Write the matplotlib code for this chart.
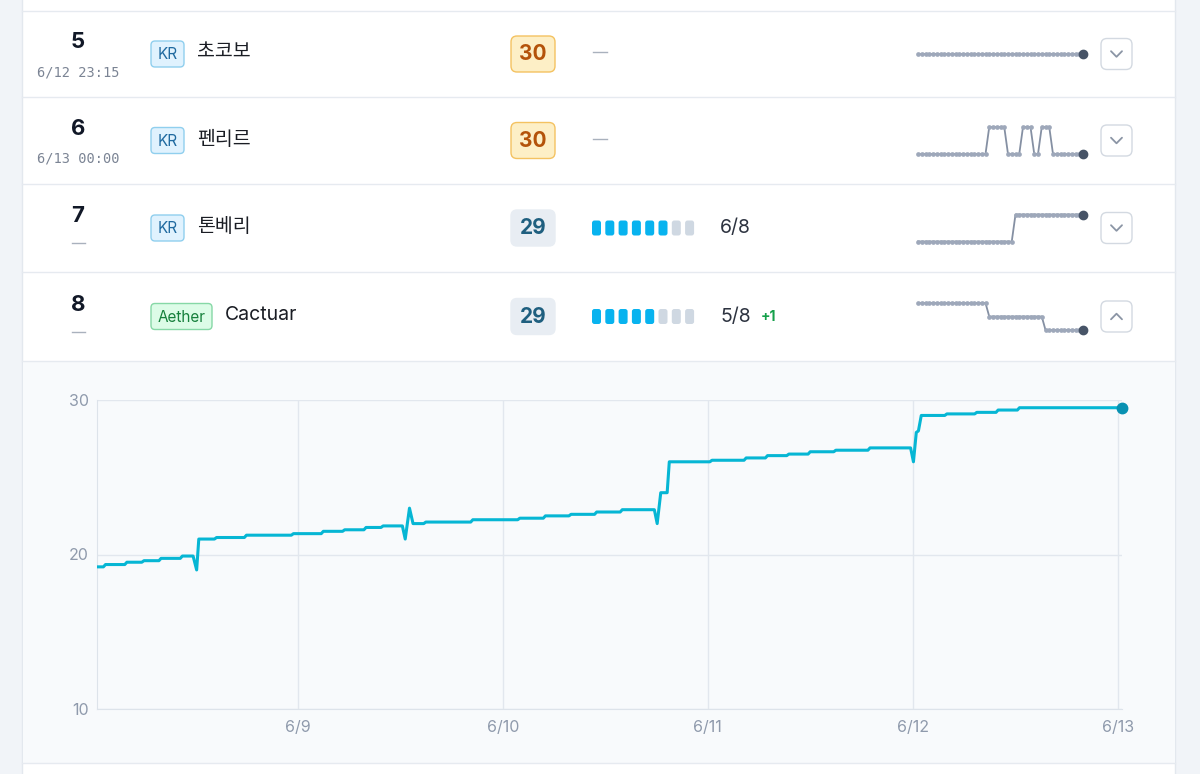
import matplotlib
matplotlib.use("Agg")
import matplotlib.pyplot as plt
from matplotlib.patches import FancyBboxPatch, Rectangle
import pandas as pd

plt.rcParams['font.family'] = ['Inter', 'Noto Sans CJK KR', 'DejaVu Sans']

W, H = 1200, 774

# --- table rows ---
ranks = [5, 6, 7, 8]
rank_notes = ["6/12 23:15", "6/13 00:00", None, None]
worlds = ["KR", "KR", "KR", "Aether"]
names = ["초코보", "펜리르", "톤베리", "Cactuar"]
scores = [30, 30, 29, 29]
progress = [None, None, 6, 5]
progress_total = 8
progress_delta = [None, None, None, "+1"]
expanded = [False, False, False, True]

# rank history sparklines
spark5 = [5, 5, 5, 5, 5, 5, 5, 5, 5, 5, 5, 5, 5, 5, 5,
          5, 5, 5, 5, 5, 5, 5, 5, 5, 5, 5, 5, 5, 5, 5,
          5, 5, 5, 5, 5, 5, 5, 5, 5, 5, 5, 5, 5, 5, 5]
spark6 = [6, 6, 6, 6, 6, 6, 6, 6, 6, 6, 6, 6, 6, 6, 6,
          6, 6, 6, 6, 5, 5, 5, 5, 5, 6, 6, 6, 6, 5, 5,
          5, 6, 6, 5, 5, 5, 6, 6, 6, 6, 6, 6, 6, 6, 6]
spark7 = [8, 8, 8, 8, 8, 8, 8, 8, 8, 8, 8, 8, 8, 8, 8,
          8, 8, 8, 8, 8, 8, 8, 8, 8, 8, 8, 7, 7, 7, 7,
          7, 7, 7, 7, 7, 7, 7, 7, 7, 7, 7, 7, 7, 7, 7]
spark8 = [6, 6, 6, 6, 6, 6, 6, 6, 6, 6, 6, 6, 6, 6, 6,
          6, 6, 6, 6, 7, 7, 7, 7, 7, 7, 7, 7, 7, 7, 7,
          7, 7, 7, 7, 8, 8, 8, 8, 8, 8, 8, 8, 8, 8, 8]
sparks = [spark5, spark6, spark7, spark8]

# --- score history of the expanded row (Cactuar) ---
times = ["06-08 00:30", "06-08 01:15", "06-08 01:30", "06-08 03:45", "06-08 04:00",
         "06-08 05:45", "06-08 06:00", "06-08 07:45", "06-08 08:00", "06-08 10:15",
         "06-08 10:30", "06-08 11:45", "06-08 12:10", "06-08 12:25", "06-08 14:15",
         "06-08 14:30", "06-08 17:45", "06-08 18:00", "06-08 23:15", "06-08 23:30",
         "06-09 02:45", "06-09 03:00", "06-09 05:15", "06-09 05:30", "06-09 07:45",
         "06-09 08:00", "06-09 09:45", "06-09 10:00", "06-09 12:15", "06-09 12:35",
         "06-09 13:05", "06-09 13:30", "06-09 14:45", "06-09 15:00", "06-09 20:15",
         "06-09 20:30", "06-10 01:45", "06-10 02:00", "06-10 04:45", "06-10 05:00",
         "06-10 07:45", "06-10 08:00", "06-10 10:45", "06-10 11:00", "06-10 13:45",
         "06-10 14:00", "06-10 17:45", "06-10 18:05", "06-10 18:30", "06-10 19:15",
         "06-10 19:30", "06-11 00:15", "06-11 00:30", "06-11 04:15", "06-11 04:30",
         "06-11 06:45", "06-11 07:00", "06-11 09:15", "06-11 09:30", "06-11 11:45",
         "06-11 12:00", "06-11 14:45", "06-11 15:00", "06-11 18:45", "06-11 19:00",
         "06-11 23:45", "06-12 00:05", "06-12 00:25", "06-12 00:40", "06-12 01:00",
         "06-12 03:45", "06-12 04:00", "06-12 07:15", "06-12 07:30", "06-12 09:45",
         "06-12 10:00", "06-12 12:15", "06-12 12:30", "06-13 00:30"]
values = [19.2, 19.2, 19.35, 19.35, 19.5,
          19.5, 19.6, 19.6, 19.75, 19.75,
          19.9, 19.9, 19.0, 21.0, 21.0,
          21.1, 21.1, 21.25, 21.25, 21.35,
          21.35, 21.5, 21.5, 21.6, 21.6,
          21.75, 21.75, 21.85, 21.85, 21.0,
          23.0, 22.0, 22.0, 22.1, 22.1,
          22.25, 22.25, 22.35, 22.35, 22.5,
          22.5, 22.6, 22.6, 22.75, 22.75,
          22.9, 22.9, 22.0, 24.0, 24.0,
          26.0, 26.0, 26.1, 26.1, 26.25,
          26.25, 26.4, 26.4, 26.5, 26.5,
          26.65, 26.65, 26.75, 26.75, 26.9,
          26.9, 26.0, 27.9, 28.0, 29.0,
          29.0, 29.1, 29.1, 29.2, 29.2,
          29.35, 29.35, 29.5, 29.5]
x_ticks = ["06-09", "06-10", "06-11", "06-12", "06-13"]
y_ticks = [10, 20, 30]

t = pd.to_datetime(["2025-" + s for s in times])
tick_dates = pd.to_datetime(["2025-" + s for s in x_ticks])

fig = plt.figure(figsize=(12, 7.74), dpi=100)
fig.patch.set_facecolor("#f1f4f8")
bg = fig.add_axes([0, 0, 1, 1])
bg.set_xlim(0, W)
bg.set_ylim(H, 0)
bg.axis("off")


def px_axes(x0, y0, x1, y1):
    return fig.add_axes([x0 / W, 1 - y1 / H, (x1 - x0) / W, (y1 - y0) / H])


def rbox(x0, y0, x1, y1, r, fc, ec="none", lw=1.0):
    bg.add_patch(FancyBboxPatch((x0, y0), x1 - x0, y1 - y0,
                                boxstyle=f"round,pad=0,rounding_size={r}",
                                fc=fc, ec=ec, lw=lw))


# card and expanded panel
bg.add_patch(Rectangle((22, -2), 1153, 780, fc="white", ec="#e3e8ee", lw=1))
bg.add_patch(Rectangle((22.5, 361), 1152, 402, fc="#f8fafc", ec="none"))
for y in [11, 97, 184, 272, 361, 763]:
    bg.plot([22, 1175], [y, y], color="#e6eaf0", lw=1)

centers = [54, 140.5, 228, 316.5]
for i, c in enumerate(centers):
    bg.text(78, c - 11.5, str(ranks[i]), ha="center", va="center",
            fontsize=16, fontweight="bold", color="#111827")
    if rank_notes[i]:
        bg.text(78, c + 18.5, rank_notes[i], ha="center", va="center",
                fontsize=9.8, color="#7b8494", family="DejaVu Sans Mono")
    else:
        bg.plot([72, 85], [c + 15, c + 15], color="#a9b1bd", lw=1)

    # world badge + name
    bw = 19 + 7 * len(worlds[i])
    if worlds[i] == "Aether":
        fc, ec, tc = "#dcfce7", "#86d8a6", "#16803c"
    else:
        fc, ec, tc = "#e0f2fe", "#90cfee", "#1f6aa0"
    rbox(151, c - 13, 151 + bw, c + 13, 4, fc, ec)
    bg.text(151 + bw / 2, c + 0.5, worlds[i], ha="center", va="center",
            fontsize=11, color=tc)
    bg.text(151 + bw + 13, c - 1, names[i], ha="left", va="center",
            fontsize=14, color="#1a1d24")

    # score badge
    if scores[i] >= 30:
        fc, ec, tc = "#fdefc6", "#f4c261", "#b4530a"
    else:
        fc, ec, tc = "#e8edf3", "#e8edf3", "#1f5f7f"
    rbox(511, c - 18, 555, c + 18, 6, fc, ec)
    bg.text(533, c + 0.5, str(scores[i]), ha="center", va="center",
            fontsize=15, fontweight="bold", color=tc)

    # progress
    if progress[i] is None:
        bg.plot([593, 607], [c - 2, c - 2], color="#a9b1bd", lw=1)
    else:
        for k in range(progress_total):
            x0 = 592 + k * 13.3
            col = "#08b3ef" if k < progress[i] else "#cfd8e2"
            rbox(x0, c - 7.5, x0 + 9, c + 7.5, 2.5, col)
        bg.text(720, c, f"{progress[i]}/{progress_total}", ha="left",
                va="center", fontsize=14, color="#2d3340")
        if progress_delta[i]:
            bg.text(761, c + 0.5, progress_delta[i], ha="left", va="center",
                    fontsize=10, fontweight="bold", color="#15a04a")

    # sparkline
    sp = sparks[i]
    sa = px_axes(918, c - 13.5, 1083, c + 13.5)
    sa.axis("off")
    xs = list(range(len(sp)))
    sa.plot(xs, sp, color="#8590a3", lw=1.3, marker="o", ms=3.4,
            mfc="#9ea8ba", mec="none", clip_on=False)
    sa.plot(xs[-1], sp[-1], "o", ms=6, color="#475467", clip_on=False)
    lo, hi = min(sp), max(sp)
    if lo == hi:
        lo, hi = lo - 1, hi + 1
    sa.set_xlim(0, len(sp) - 1)
    sa.set_ylim(hi, lo)

    # expand button
    rbox(1101, c - 15.5, 1132, c + 15.5, 6, "white", "#d3d9e1")
    d = -2.8 if expanded[i] else 2.8
    bg.plot([1111, 1116.5, 1122], [c - d, c + d, c - d],
            color="#8b95a5", lw=1.3, solid_capstyle="round",
            solid_joinstyle="round")

# main chart
ax = px_axes(97, 400, 1122, 709)
ax.set_facecolor("none")
ax.plot(t, values, color="#06b6d4", lw=2.2, solid_joinstyle="round", zorder=3)
ax.plot(t[-1], values[-1], "o", ms=7.5, color="#0891b2", clip_on=False, zorder=4)
ax.set_xlim(t[0], t[-1])
ax.set_ylim(10, 30)
ax.set_xticks(tick_dates)
ax.set_xticklabels([f"{d.month}/{d.day}" for d in tick_dates])
ax.set_yticks(y_ticks)
ax.grid(color="#e2e7ee", lw=1)
ax.set_axisbelow(True)
for side in ["top", "right"]:
    ax.spines[side].set_visible(False)
for side in ["left", "bottom"]:
    ax.spines[side].set_color("#dde3ea")
ax.tick_params(length=0, labelsize=11.5, labelcolor="#8f9aac")
ax.tick_params(axis="x", pad=8)
ax.tick_params(axis="y", pad=6)

fig.savefig("out.png", dpi=100, facecolor=fig.get_facecolor())
